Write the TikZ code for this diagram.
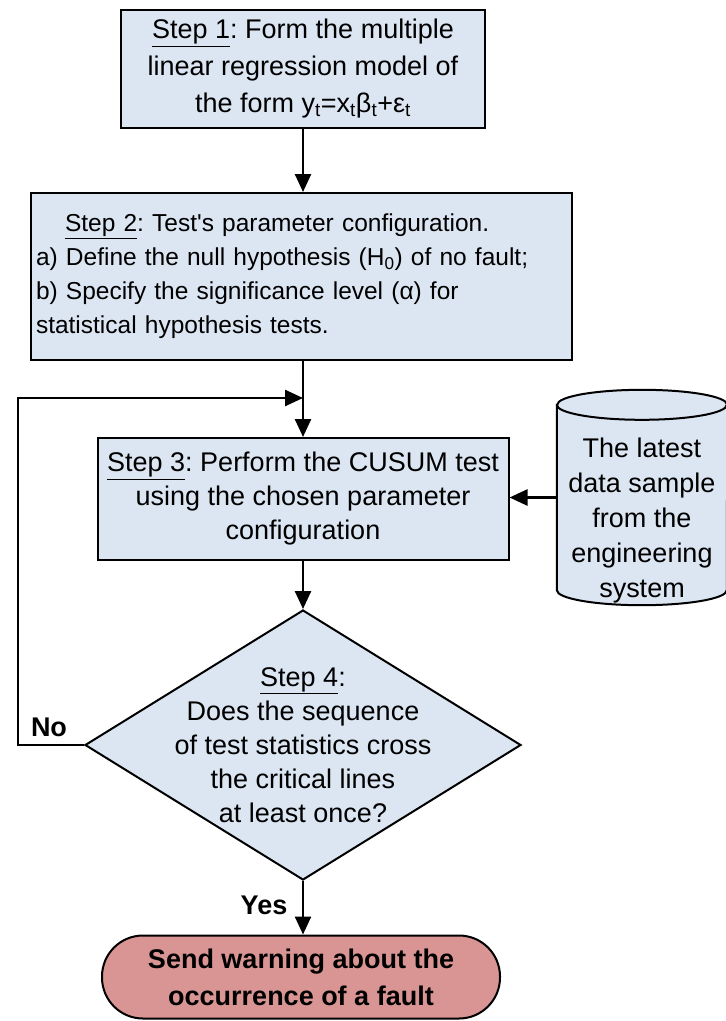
\documentclass[tikz,border=0pt]{standalone}
\usepackage{fontspec}
\setmainfont{Liberation Sans}
\frenchspacing
\usetikzlibrary{arrows.meta,shapes.geometric,positioning}
\definecolor{boxblue}{HTML}{DCE6F2}
\definecolor{alarmred}{HTML}{D99594}
\tikzset{
    stepbox/.style={draw,line width=2pt,fill=boxblue,inner sep=5pt},
    flow/.style={line width=2.5pt,-{Triangle[length=18pt,width=16pt]}},
    plain/.style={line width=2.5pt},
    txt/.style={font=\fontsize{27}{34}\selectfont},
}
\begin{document}
\begin{tikzpicture}[x=1pt,y=-1pt]
    \useasboundingbox (0,0) rectangle (726,1021);
    \node[stepbox,font=\fontsize{27}{37}\selectfont,align=center,
        minimum width=364pt,minimum height=118pt] (step1) at (303,69)
        {\underline{Step 1}: Form the multiple\\linear regression model of\\the form y\textsubscript{t}=x\textsubscript{t}β\textsubscript{t}+ε\textsubscript{t}};
    \node[stepbox,font=\fontsize{24.5}{34}\selectfont,align=left,text width=531pt,minimum height=167pt] (step2) at (301.5,276.5)
        {\hspace*{29pt}\underline{Step 2}: Test\textquotesingle s parameter configuration.\\
        a) Define the null hypothesis (H\textsubscript{0}) of no fault;\\
        b) Specify the significance level (α) for\\
        statistical hypothesis tests.};
    \coordinate (join) at (303,398);
    \node[stepbox,txt,align=center,minimum width=411pt,minimum height=122pt] (step3) at (303,499)
        {\underline{Step 3}: Perform the CUSUM test\\using the chosen parameter\\configuration};
    \node[minimum width=170pt,minimum height=215pt,inner sep=0pt] (data) at (642,497.5) {};
    \draw[line width=2pt,fill=boxblue] ([yshift=-15pt]data.north west) -- ([yshift=15pt]data.south west)
        arc (180:360:85pt and 15pt) -- ([yshift=-15pt]data.north east)
        arc (0:180:85pt and 15pt) -- cycle;
    \draw[line width=2pt] ([yshift=-15pt]data.north west) arc (180:360:85pt and 15pt);
    \node[font=\fontsize{27}{35}\selectfont,align=center] (datatext) at (642,521)
        {The latest\\data sample\\from the\\engineering\\system};
    \node[diamond,draw,line width=2pt,fill=boxblue,inner sep=0pt,
        minimum width=436pt,minimum height=270pt] (step4) at (303,745) {};
    \node[txt,align=center] (step4text) at (step4)
        {\underline{Step 4}:\\Does the sequence\\of test statistics cross\\the critical lines\\at least once?};
    \node[draw,line width=2pt,fill=alarmred,rounded corners=41pt,minimum width=398pt,minimum height=83pt,
        font=\bfseries\fontsize{27}{37}\selectfont,align=center] (warn) at (301,977)
        {Send warning about the\\occurrence of a fault};
    \coordinate (back) at (18,745);
    \draw[flow] (step1.south -| join) -- (join |- step2.north);
    \draw[plain] (step2.south -| join) -- (join);
    \draw[flow] (join) -- (join |- step3.north);
    \draw[flow] (data.west) -- (step3.east |- data.west);
    \draw[flow] (step3.south) -- (step4.north);
    \draw[flow] (step4.west) -- (back) |- (join);
    \draw[flow] (step4.south) -- (step4.south |- warn.north);
    \node[font=\bfseries\fontsize{27}{30}\selectfont] (no) at (49,727) {No};
    \node[font=\bfseries\fontsize{27}{30}\selectfont] (yes) at (264,905) {Yes};
\end{tikzpicture}
\end{document}
